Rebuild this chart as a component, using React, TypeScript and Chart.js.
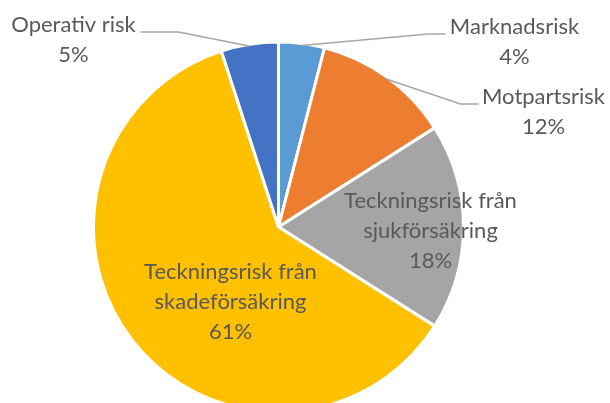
import React, { useEffect, useRef } from "react";
import { Chart, registerables } from "chart.js";

Chart.register(...registerables);

const categories = [
  "Marknadsrisk",
  "Motpartsrisk",
  "Teckningsrisk från sjukförsäkring",
  "Teckningsrisk från skadeförsäkring",
  "Operativ risk",
];
const values = [4, 12, 18, 61, 5];
const colors = ["#5B9BD5", "#ED7D31", "#A5A5A5", "#FFC000", "#4472C4"];
// label text lines for each slice (name lines + percentage)
const labelLines = [
  ["Marknadsrisk"],
  ["Motpartsrisk"],
  ["Teckningsrisk från", "sjukförsäkring"],
  ["Teckningsrisk från", "skadeförsäkring"],
  ["Operativ risk"],
];

const FONT = '22px Lato, "Open Sans", sans-serif';
const TEXT = "#595959";
const LINE_H = 30;

const labelPlugin = {
  id: "pieLabels",
  afterDraw(chart: any) {
    const ctx = chart.ctx;
    const meta = chart.getDatasetMeta(0);
    const total = values.reduce((a, b) => a + b, 0);
    ctx.save();
    ctx.font = FONT;
    ctx.fillStyle = TEXT;
    ctx.textAlign = "center";
    ctx.textBaseline = "middle";
    meta.data.forEach((arc: any, i: number) => {
      const { x, y, startAngle, endAngle, outerRadius } = arc.getProps(
        ["x", "y", "startAngle", "endAngle", "outerRadius"],
        true
      );
      const mid = (startAngle + endAngle) / 2;
      const pct = Math.round((values[i] / total) * 100) + "%";
      const lines = [...labelLines[i], pct];
      const outside = values[i] / total < 0.15;
      if (!outside) {
        let cx: number, cy: number;
        if (i === 2) {
          cx = x + 152; cy = y + 4;
        } else {
          cx = x - 48; cy = y + 75;
        }
        const h = (lines.length - 1) * LINE_H;
        lines.forEach((t, k) => ctx.fillText(t, cx, cy - h / 2 + k * LINE_H));
      } else {
        // edge point on slice
        const ex = x + Math.cos(mid) * (outerRadius - 2);
        const ey = y + Math.sin(mid) * (outerRadius - 2);
        let lx: number, ly: number, elbowX: number, anchorX: number;
        if (i === 0) {
          lx = x + 236; ly = y - 200; elbowX = x + 150; anchorX = x + 167;
        } else if (i === 1) {
          lx = x + 265; ly = y - 130; elbowX = x + 182; anchorX = x + 200;
        } else {
          lx = x - 205; ly = y - 202; elbowX = x - 100; anchorX = x - 138;
        }
        // leader line
        ctx.strokeStyle = "#A6A6A6";
        ctx.lineWidth = 1.5;
        ctx.beginPath();
        ctx.moveTo(ex, ey);
        ctx.lineTo(elbowX, ly + 7);
        ctx.lineTo(anchorX, ly + 7);
        ctx.stroke();
        lines.forEach((t, k) => ctx.fillText(t, lx, ly + k * LINE_H));
      }
    });
    ctx.restore();
  },
};

export default function App() {
  const ref = useRef<HTMLCanvasElement | null>(null);
  useEffect(() => {
    if (!ref.current) return;
    const chart = new Chart(ref.current, {
      type: "pie",
      data: {
        labels: categories,
        datasets: [
          {
            data: values,
            backgroundColor: colors,
            borderColor: "#FFFFFF",
            borderWidth: 3,
          },
        ],
      },
      options: {
        responsive: false,
        animation: false,
        layout: { padding: { left: 92, right: 145, top: 40, bottom: 26 } },
        plugins: {
          legend: { display: false },
          tooltip: { enabled: false },
        },
      },
      plugins: [labelPlugin],
    });
    return () => chart.destroy();
  }, []);
  return (
    <div
      style={{
        position: "fixed",
        left: 0,
        top: 0,
        width: 610,
        height: 403,
        overflow: "hidden",
        background: "#FFFFFF",
      }}
    >
      <canvas ref={ref} width={610} height={440} />
    </div>
  );
}
